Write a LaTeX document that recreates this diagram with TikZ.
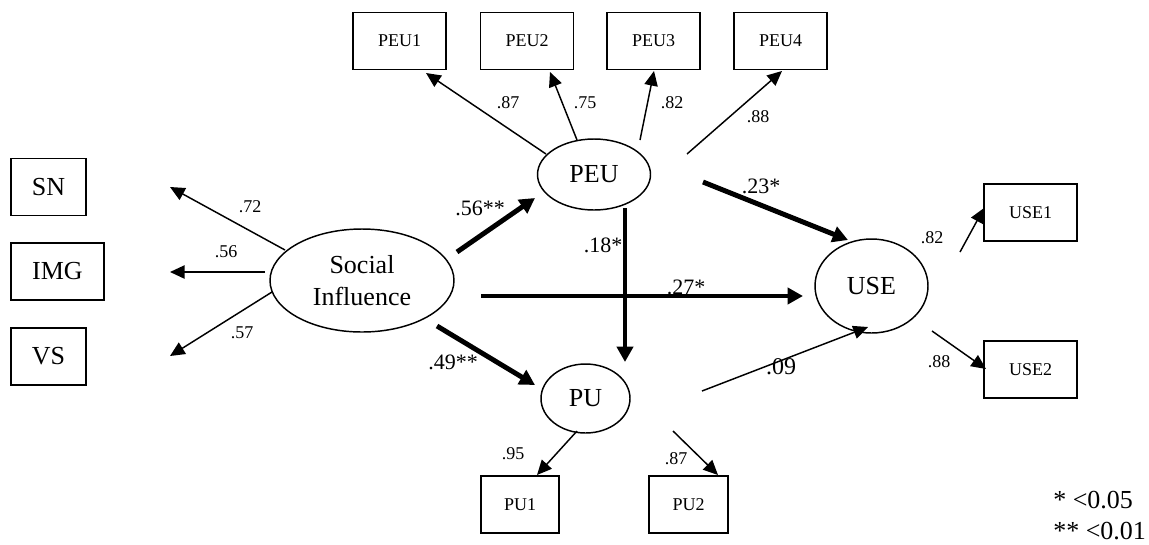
\documentclass[tikz,border=0pt]{standalone}
\usepackage{fontspec}
\setmainfont{Liberation Serif}
\usetikzlibrary{shapes.geometric,arrows.meta}
\begin{document}
\begin{tikzpicture}[x=0.75pt,y=-0.75pt,
  big/.style={font=\fontsize{19.5}{24}\selectfont},
  mid/.style={font=\fontsize{16.5}{20}\selectfont},
  small/.style={font=\fontsize{13.5}{16}\selectfont},
  ell/.style={draw,ellipse,line width=1.1pt,inner sep=0pt,big,align=center},
  bx/.style={draw,rectangle,line width=1.2pt,inner sep=0pt},
  sbox/.style={bx,small,minimum width=69.75pt,minimum height=42.5pt},
  lbox/.style={bx,big,minimum height=43pt},
  thin/.style={line width=1.1pt,-{Triangle[length=11pt,width=10pt]}},
  thick/.style={line width=3.7pt,-{Triangle[length=11.5pt,width=12pt]}},
  lab/.style={inner sep=0pt}]
\useasboundingbox (0,0) rectangle (1149,544);

% latent variables
\node[ell,minimum width=84.75pt,minimum height=53.25pt] (peu) at (594,174.5) {PEU};
\node[ell,minimum width=138pt,minimum height=77.25pt] (si) at (362,280.5) {Social\\Influence};
\node[ell,minimum width=66.75pt,minimum height=51.75pt] (pu) at (585.5,398.5) {PU};
\node[ell,minimum width=84.75pt,minimum height=70.5pt] (use) at (871.5,286) {USE};

% indicators
\node[sbox] (peu1) at (399.5,41) {PEU1};
\node[sbox] (peu2) at (527,41) {PEU2};
\node[sbox] (peu3) at (653.5,41) {PEU3};
\node[sbox] (peu4) at (780.5,41) {PEU4};
\node[lbox,minimum width=56.25pt] (sn) at (48.5,187) {SN};
\node[lbox,minimum width=69.75pt] (img) at (57.5,271.5) {IMG};
\node[lbox,minimum width=56.25pt] (vs) at (48.5,356.5) {VS};
\node[sbox] (use1) at (1030.5,212.5) {USE1};
\node[sbox] (use2) at (1030.5,369.5) {USE2};
\node[sbox,minimum width=58.5pt] (pu1) at (520,504.5) {PU1};
\node[sbox,minimum width=59.25pt] (pu2) at (688.5,504.5) {PU2};

% connector end points
\coordinate (p1s) at (546,154); \coordinate (p1e) at (426,73);
\coordinate (p2s) at (577,140); \coordinate (p2e) at (550,72);
\coordinate (p3s) at (640,140); \coordinate (p3e) at (654,71);
\coordinate (p4s) at (687,154); \coordinate (p4e) at (782,71);
\coordinate (s1s) at (285,250); \coordinate (s1e) at (170,187);
\coordinate (s2s) at (265,272); \coordinate (s2e) at (170,272);
\coordinate (s3s) at (272,292); \coordinate (s3e) at (170,356);
\coordinate (u1s) at (960,252); \coordinate (u1e) at (984,208);
\coordinate (u2s) at (932,331); \coordinate (u2e) at (986,369);
\coordinate (q1s) at (577,431); \coordinate (q1e) at (537,475);
\coordinate (q2s) at (673,431); \coordinate (q2e) at (718,475);
\coordinate (puu) at (702,391); \coordinate (puue) at (868,327);
\coordinate (sip) at (457,252); \coordinate (sipe) at (535,198);
\coordinate (siq) at (437,326); \coordinate (siqe) at (535,385);
\coordinate (siu) at (481,296); \coordinate (siue) at (803,296);
\coordinate (peq) at (625,208); \coordinate (peqe) at (625,362);
\coordinate (peus) at (703,182); \coordinate (peue) at (848,240);

% thin arrows
\draw[thin] (p1s) -- (p1e);
\draw[thin] (p2s) -- (p2e);
\draw[thin] (p3s) -- (p3e);
\draw[thin] (p4s) -- (p4e);
\draw[thin] (s1s) -- (s1e);
\draw[thin] (s2s) -- (s2e);
\draw[thin] (s3s) -- (s3e);
\draw[thin] (u1s) -- (u1e);
\draw[thin] (u2s) -- (u2e);
\draw[thin] (q1s) -- (q1e);
\draw[thin] (q2s) -- (q2e);
\draw[thin] (puu) -- (puue);

% thick arrows
\draw[thick] (sip) -- (sipe);
\draw[thick] (siq) -- (siqe);
\draw[thick] (siu) -- (siue);
\draw[thick] (peq) -- (peqe);
\draw[thick] (peus) -- (peue);

% labels
\node[lab,small] (l1) at (508,103) {.87};
\node[lab,small] (l2) at (585,103) {.75};
\node[lab,small] (l3) at (672,103) {.82};
\node[lab,small] (l4) at (758,117) {.88};
\node[lab,small] (l5) at (250,207) {.72};
\node[lab,small] (l6) at (226,252) {.56};
\node[lab,small] (l7) at (242,333) {.57};
\node[lab,small] (l8) at (932,238) {.82};
\node[lab,small] (l9) at (939,362) {.88};
\node[lab,small] (l10) at (513,454) {.95};
\node[lab,small] (l11) at (676,459) {.87};
\node[lab,mid] (m1) at (480,208) {.56**};
\node[lab,mid] (m2) at (453,362) {.49**};
\node[lab,mid] (m3) at (603,245) {.18*};
\node[lab,mid] (m4) at (686,287) {.27*};
\node[lab,mid] (m5) at (761,186) {.23*};
\node[lab,font=\fontsize{18}{20}\selectfont] (m6) at (781,367) {.09};

% legend
\node[lab,big,anchor=west] (leg1) at (1053,500) {* <0.05};
\node[lab,big,anchor=west] (leg2) at (1053,531) {** <0.01};
\end{tikzpicture}
\end{document}
